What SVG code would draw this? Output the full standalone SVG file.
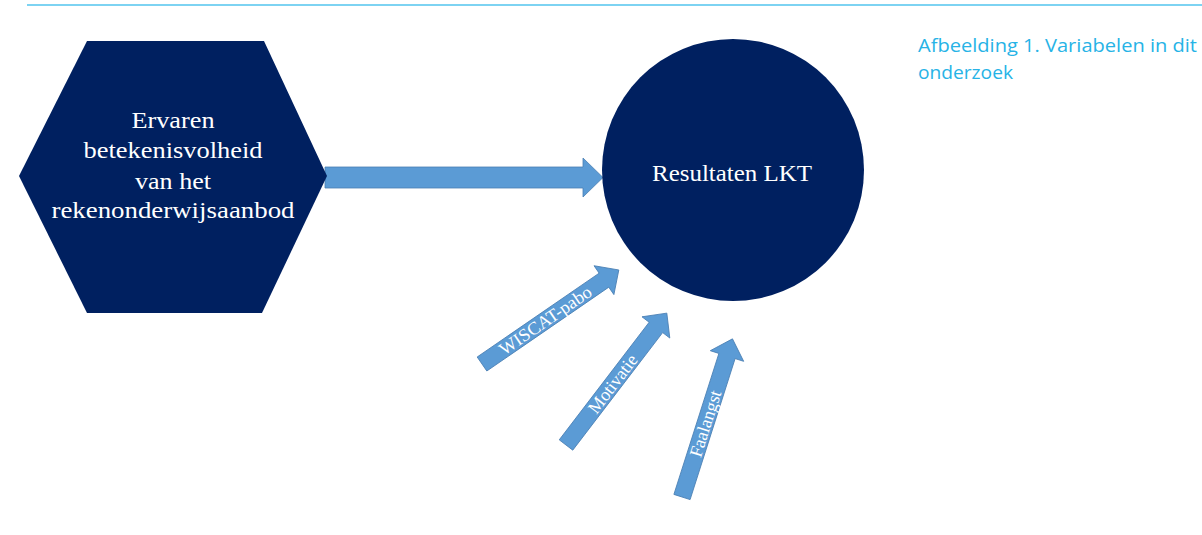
<svg xmlns="http://www.w3.org/2000/svg" width="1202" height="535" viewBox="0 0 1202 535">
<defs>
<style>
.navy{fill:#002060;}
.arrow{fill:#5b9bd5;stroke:#4a7fb3;stroke-width:0.8;}
.ntext{font-family:"Liberation Serif",serif;fill:#ffffff;text-anchor:middle;}
.big{font-size:24px;}
.small{font-size:18px;}
.cap{font-family:"Open Sans","Noto Sans",sans-serif;font-size:18px;fill:#27b3e6;}
</style>
</defs>
<rect width="1202" height="535" fill="#ffffff"/>
<line x1="27" y1="5" x2="1202" y2="5" stroke="#52c4ee" stroke-width="1.6"/>
<g id="caption">
<text class="cap" x="918" y="52" textLength="279" lengthAdjust="spacingAndGlyphs">Afbeelding 1. Variabelen in dit</text>
<text class="cap" x="918" y="79" textLength="95" lengthAdjust="spacingAndGlyphs">onderzoek</text>
</g>
<g id="connectors">
<polygon class="arrow" points="325,167 583,167 583,158 603,177.5 583,197 583,188 325,188"/>
<g id="arrow-wiscat" transform="translate(482,364) rotate(-34.5)">
<polygon class="arrow" points="0,-8.5 148,-8.5 148,-17.5 166,0 148,17.5 148,8.5 0,8.5"/>
<text class="ntext small" x="77" y="6" textLength="108" lengthAdjust="spacingAndGlyphs">WISCAT-pabo</text>
</g>
<g id="arrow-motivatie" transform="translate(566,445) rotate(-52.6)">
<polygon class="arrow" points="0,-8.5 148,-8.5 148,-17.5 166,0 148,17.5 148,8.5 0,8.5"/>
<text class="ntext small" x="77" y="6" textLength="69" lengthAdjust="spacingAndGlyphs">Motivatie</text>
</g>
<g id="arrow-faalangst" transform="translate(682,497) rotate(-72.3)">
<polygon class="arrow" points="0,-8.5 148,-8.5 148,-17.5 166,0 148,17.5 148,8.5 0,8.5"/>
<text class="ntext small" x="77" y="6">Faalangst</text>
</g>
</g>
<g id="node-hexagon">
<polygon class="navy" points="87,41 264,41 327,176 262,313 87,313 19,176"/>
<text class="ntext big" x="173" y="128" textLength="83" lengthAdjust="spacingAndGlyphs">Ervaren</text>
<text class="ntext big" x="173" y="158" textLength="179" lengthAdjust="spacingAndGlyphs">betekenisvolheid</text>
<text class="ntext big" x="173" y="189" textLength="76" lengthAdjust="spacingAndGlyphs">van het</text>
<text class="ntext big" x="173" y="218" textLength="243" lengthAdjust="spacingAndGlyphs">rekenonderwijsaanbod</text>
</g>
<g id="node-circle">
<circle class="navy" cx="733" cy="170" r="131"/>
<text class="ntext big" x="732" y="181" textLength="160" lengthAdjust="spacingAndGlyphs">Resultaten LKT</text>
</g>
</svg>
